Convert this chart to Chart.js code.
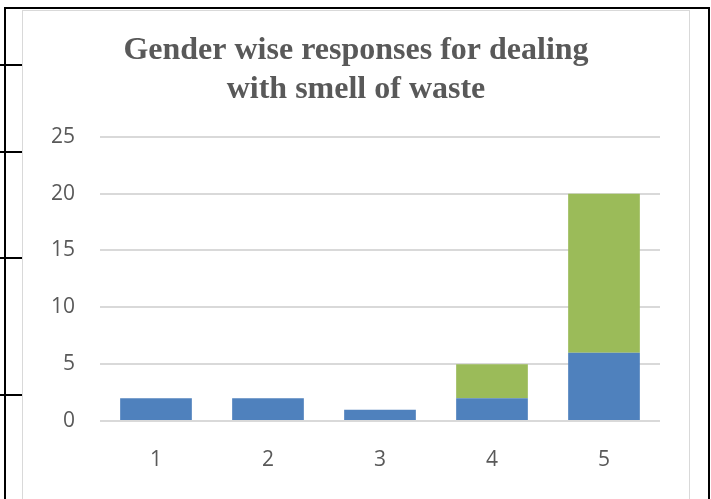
<!DOCTYPE html>
<html>
<head>
<meta charset="utf-8">
<script src="https://cdn.jsdelivr.net/npm/chart.js@4"></script>
<style>
	html, body { margin: 0; padding: 0; background: #fff; }
	body { width: 711px; height: 499px; position: relative; overflow: hidden; }
	.rule { position: absolute; background: #000; }
	#box {
		position: absolute; left: 22px; top: 10px; width: 666px; height: 500px;
		border: 1px solid #D9D9D9; background: #fff;
	}
	#wrap { position: absolute; left: 0; top: 0; width: 666px; height: 488px; }
</style>
</head>
<body>
<!-- table lines of the surrounding document -->
<div class="rule" style="left:4px;top:8px;width:2px;height:491px"></div>
<div class="rule" style="left:4px;top:7px;width:706px;height:2px"></div>
<div class="rule" style="left:708px;top:7px;width:2px;height:492px"></div>
<div class="rule" style="left:0;top:64px;width:22px;height:2px"></div>
<div class="rule" style="left:0;top:151px;width:22px;height:2px"></div>
<div class="rule" style="left:0;top:257px;width:22px;height:2px"></div>
<div class="rule" style="left:0;top:394px;width:22px;height:2px"></div>

<div id="box"><div id="wrap"><canvas id="chart"></canvas></div></div>

<script>
const labels = ['1', '2', '3', '4', '5'];
const series_a = [2, 2, 1, 2, 6];
const series_b = [0, 0, 0, 3, 14];
const y_ticks = [0, 5, 10, 15, 20, 25];

const tick_font = { family: "'Open Sans', 'Liberation Sans', sans-serif", size: 21 };

const data_chart = {
	labels: labels,
	datasets: [
		{
			label: 'Series1',
			data: series_a,
			backgroundColor: '#4F81BD',
			borderWidth: 0,
			barPercentage: 0.64,
			categoryPercentage: 1
		},
		{
			label: 'Series2',
			data: series_b,
			backgroundColor: '#9BBB59',
			borderWidth: 0,
			barPercentage: 0.64,
			categoryPercentage: 1
		}
	]
};

const config_chart = {
	type: 'bar',
	data: data_chart,
	options: {
		responsive: true,
		maintainAspectRatio: false,
		animation: false,
		layout: { padding: 0 },
		plugins: {
			legend: { display: false },
			tooltip: { enabled: false },
			title: {
				display: true,
				text: ['Gender wise responses for dealing', 'with smell of waste'],
				color: '#595959',
				font: { family: "'Liberation Serif', 'Times New Roman', serif", size: 32, weight: 'bold', lineHeight: 1.2 },
				padding: { top: 21, bottom: 28 }
			}
		},
		scales: {
			x: {
				stacked: true,
				grid: { display: false, drawTicks: false },
				border: { display: false },
				ticks: { color: '#595959', font: tick_font, padding: 26 },
				afterFit: function(scale) { scale.height = 78; }
			},
			y: {
				stacked: true,
				min: 0,
				max: 25,
				afterBuildTicks: function(scale) {
					scale.ticks = y_ticks.map(v => ({ value: v }));
				},
				grid: { color: '#D9D9D9', lineWidth: 2, drawTicks: false },
				border: { display: false },
				ticks: { color: '#595959', font: tick_font, padding: 25 },
				afterFit: function(scale) { scale.width = 77; }
			},
			// empty right axis, only keeps the plot off the right edge
			y_right: {
				position: 'right',
				grid: { display: false, drawTicks: false },
				border: { display: false },
				ticks: { display: false },
				afterFit: function(scale) { scale.width = 29; }
			}
		}
	}
};

const chart = new Chart(
	document.getElementById('chart'),
	config_chart
);
</script>
</body>
</html>
